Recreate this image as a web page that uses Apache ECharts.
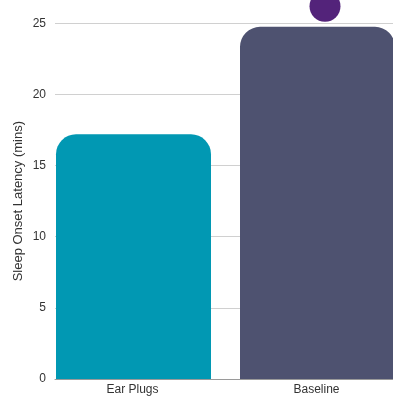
<!DOCTYPE html>
<html>
<head>
<meta charset="utf-8">
<script src="https://cdn.jsdelivr.net/npm/echarts@6/dist/echarts.min.js"></script>
<style>
  html, body { margin: 0; padding: 0; background: #fff; overflow: hidden; }
  #chart { width: 393px; height: 397px; }
</style>
</head>
<body>
<div id="chart"></div>
<script>
// Sleep onset latency per condition
const categories = ['Ear Plugs', 'Baseline'];
const latency = [17.2, 24.75];
const barColors = ['#0198b3', '#4e5270'];
// single highlighted observation shown as a dot
const markerPoint = [['Baseline', 26.2]];
const yTicks = { min: 0, max: 25, interval: 5 };

const chart = echarts.init(document.getElementById('chart'));
chart.setOption({
  animation: false,
  grid: { left: 55, width: 368, top: 23.3, bottom: 18, containLabel: false, outerBoundsMode: 'none' },
  xAxis: {
    type: 'category',
    data: categories,
    axisLine: { lineStyle: { color: '#9a9a9a', width: 1 } },
    axisTick: { show: false },
    axisLabel: {
      color: '#333',
      fontSize: 12,
      fontFamily: 'Liberation Sans, Arial, sans-serif',
      margin: 5,
      padding: [0, 29, 0, 0]
    }
  },
  yAxis: {
    type: 'value',
    min: yTicks.min,
    max: yTicks.max,
    interval: yTicks.interval,
    name: 'Sleep Onset Latency (mins)',
    nameLocation: 'middle',
    nameGap: 30,
    nameMoveOverlap: false,
    nameTextStyle: { color: '#333', fontSize: 13, fontFamily: 'Liberation Sans, Arial, sans-serif' },
    axisLine: { show: false },
    axisTick: { show: false },
    axisLabel: { color: '#333', fontSize: 12, fontFamily: 'Liberation Sans, Arial, sans-serif', margin: 9 },
    splitLine: { lineStyle: { color: '#d0d0d0', width: 1 } }
  },
  series: [
    {
      type: 'bar',
      barWidth: 155,
      barGap: '0%',
      data: latency.map((v, i) => ({
        value: v,
        itemStyle: { color: barColors[i], borderRadius: [20, 20, 0, 0] }
      }))
    },
    {
      // spacer column keeps the visible bars left of the band centre
      type: 'bar',
      barWidth: 27,
      data: [],
      itemStyle: { color: 'transparent' }
    },
    {
      type: 'scatter',
      data: markerPoint,
      symbol: 'circle',
      symbolSize: 31,
      symbolOffset: [-6, 0],
      clip: false,
      itemStyle: { color: '#53237a', opacity: 1 },
      z: 5
    }
  ]
});
</script>
</body>
</html>
